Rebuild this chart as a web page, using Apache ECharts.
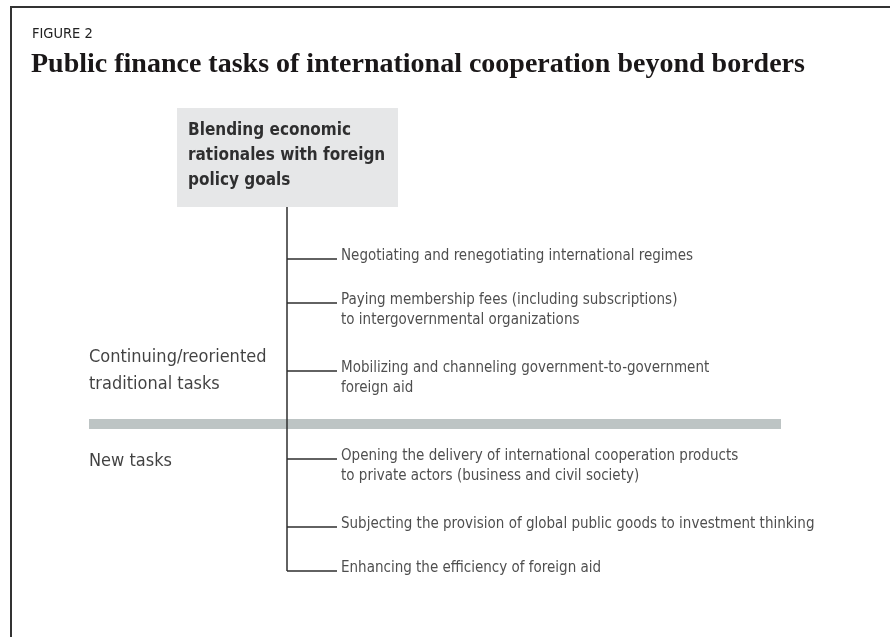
<!DOCTYPE html>
<html>
<head>
<meta charset="utf-8">
<script src="https://cdn.jsdelivr.net/npm/echarts@6/dist/echarts.min.js"></script>
<style>
  html, body { margin: 0; padding: 0; background: #fff; }
  #figure { width: 890px; height: 637px; }
</style>
</head>
<body>
<div id="figure"></div>
<script>
	// contenu de la figure
	var figureLabel = 'FIGURE 2';
	var figureTitle = 'Public finance tasks of international cooperation beyond borders';
	var rootGoal = 'Blending economic\nrationales with foreign\npolicy goals';
	var groupNames = ['Continuing/reoriented\ntraditional tasks', 'New tasks'];
	var traditionalTasks = [
		'Negotiating and renegotiating international regimes',
		'Paying membership fees (including subscriptions)\nto intergovernmental organizations',
		'Mobilizing and channeling government-to-government\nforeign aid'
	];
	var newTasks = [
		'Opening the delivery of international cooperation products\nto private actors (business and civil society)',
		'Subjecting the provision of global public goods to investment thinking',
		'Enhancing the efficiency of foreign aid'
	];

	var narrow = "'Liberation Sans Narrow', 'DejaVu Sans Condensed', 'Roboto', sans-serif";

	// mise en page : une ligne par tache, plus haut si le texte a deux lignes
	var trunkX = 287, branchEnd = 337, textX = 341;
	var firstRow = 259, rowGap = 44, extraLine = 24, groupGap = 20;
	var rows = [], tasks = [];
	var y = firstRow;
	[traditionalTasks, newTasks].forEach(function(group, gi){
		if(gi > 0) y += groupGap;
		group.forEach(function(t){
			rows.push(y);
			tasks.push(t);
			y += rowGap + extraLine * (t.split('\n').length - 1);
		});
	});
	var lastRow = rows[rows.length - 1];

	// les segments de l'arbre
	var segs = [{coords: [[trunkX, 207], [trunkX, lastRow]]}];
	rows.forEach(function(r){ segs.push({coords: [[trunkX, r], [branchEnd, r]]}); });

	var taskPoints = tasks.map(function(t, i){ return {name: t, value: [textX, rows[i] - 3]}; });
	var groupPoints = [
		{name: groupNames[0], value: [89, 357]},
		{name: groupNames[1], value: [89, 461]}
	];

	var myChart = echarts.init(document.getElementById('figure'), null, {renderer: 'canvas'});
	var option = {
		backgroundColor: '#fff',
		animation: false,
		title: [
			{text: figureLabel, left: 32, top: 27, padding: 0,
				textStyle: {fontFamily: narrow, fontWeight: 'normal', fontSize: 14.5, color: '#222'}},
			{text: figureTitle, left: 31, top: 51, padding: 0,
				textStyle: {fontFamily: "'Liberation Serif', 'DejaVu Serif', serif", fontWeight: 'bold', fontSize: 28, color: '#1a1718'}}
		],
		grid: {left: 0, right: 0, top: 0, bottom: 0},
		xAxis: {type: 'value', min: 0, max: 890, show: false},
		yAxis: {type: 'value', min: 0, max: 637, inverse: true, show: false},
		graphic: [
			{type: 'polyline', shape: {points: [[11, 637], [11, 7], [890, 7]]},
				style: {stroke: '#333', lineWidth: 2, fill: null}, z: 100}
		],
		series: [
			{
				type: 'lines', coordinateSystem: 'cartesian2d', z: 5,
				lineStyle: {color: '#2e2e2e', width: 1.5, opacity: 1},
				data: segs,
				markArea: {
					silent: true,
					data: [
						[{coord: [177, 108], itemStyle: {color: '#e6e7e8'}}, {coord: [398, 207]}],
						[{coord: [89, 419], itemStyle: {color: '#bdc4c4'}}, {coord: [781, 429]}]
					]
				}
			},
			{
				type: 'scatter', symbolSize: 0, z: 10,
				data: [{name: rootGoal, value: [188, 118.5]}],
				label: {show: true, formatter: '{b}', position: [0, 0], align: 'left', verticalAlign: 'top',
					fontFamily: narrow, fontWeight: 'bold', fontSize: 17, lineHeight: 25, color: '#000'}
			},
			{
				type: 'scatter', symbolSize: 0, z: 10,
				data: taskPoints,
				label: {show: true, formatter: '{b}', position: [0, -10], align: 'left', verticalAlign: 'top',
					fontFamily: narrow, fontSize: 15, lineHeight: 20, color: '#222'}
			},
			{
				type: 'scatter', symbolSize: 0, z: 10,
				data: groupPoints,
				label: {show: true, formatter: '{b}', position: [0, -13], align: 'left', verticalAlign: 'top',
					fontFamily: narrow, fontSize: 18, lineHeight: 27, color: '#111'}
			}
		]
	};
	myChart.setOption(option);
</script>
</body>
</html>
